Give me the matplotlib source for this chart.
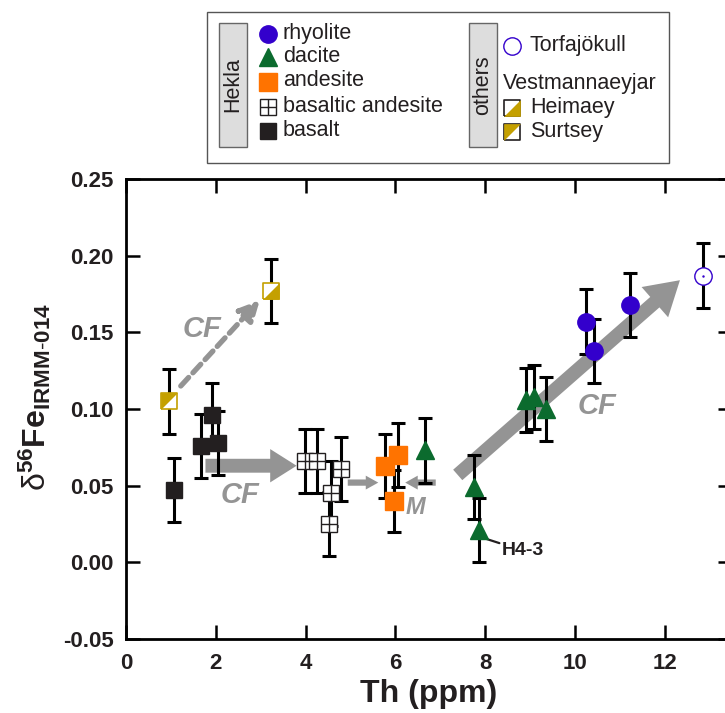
import matplotlib
matplotlib.use("Agg")
import matplotlib.pyplot as plt
from matplotlib.patches import Rectangle

# =========================
# Data
# =========================
basalt_th = [1.08, 1.66, 1.91, 2.06]
basalt_fe = [0.047, 0.076, 0.096, 0.078]
basalt_err = [0.021, 0.021, 0.021, 0.021]

bas_and_th = [3.98, 4.25, 4.56, 4.53, 4.78]
bas_and_fe = [0.066, 0.066, 0.045, 0.025, 0.061]
bas_and_err = [0.021, 0.021, 0.021, 0.021, 0.021]

andesite_th = [5.78, 6.07, 5.96]
andesite_fe = [0.063, 0.070, 0.040]
andesite_err = [0.021, 0.021, 0.020]

dacite_th = [6.65, 7.75, 7.86, 8.91, 9.09, 9.35]
dacite_fe = [0.073, 0.049, 0.021, 0.106, 0.108, 0.100]
dacite_err = [0.021, 0.021, 0.021, 0.021, 0.021, 0.021]

rhyolite_th = [10.24, 10.42, 11.23]
rhyolite_fe = [0.157, 0.138, 0.168]
rhyolite_err = [0.021, 0.021, 0.021]

torfa_th = [12.85]
torfa_fe = [0.187]
torfa_err = [0.021]

heimaey_th = [3.22]
heimaey_fe = [0.177]
heimaey_err = [0.021]

surtsey_th = [0.95]
surtsey_fe = [0.105]
surtsey_err = [0.021]

# =========================
# Style
# =========================
BLUE = "#3300CC"
GREEN = "#0B6B2E"
ORANGE = "#FF7300"
DARK = "#231F20"
GOLD = "#C4A000"
ARROW = "#949494"

plt.rcParams.update({
    "font.family": ["Liberation Sans", "DejaVu Sans"],
    "font.weight": "bold",
    "mathtext.fontset": "custom",
    "mathtext.rm": "Liberation Sans:weight=normal",
    "mathtext.bf": "Liberation Sans:bold",
    "mathtext.it": "Liberation Sans:italic",
})

# half-filled square markers (display coords, y up)
SQ = [(-1, -1), (1, -1), (1, 1), (-1, 1), (-1, -1)]
TRI_UL = [(-1, -1), (-1, 1), (1, 1), (-1, -1)]
TRI_LR = [(-1, -1), (1, -1), (1, 1), (-1, -1)]

fig = plt.figure(figsize=(7.25, 7.13), dpi=100)
ax = fig.add_axes([126 / 725, 1 - 639 / 713, 606 / 725, 460 / 713])

EB = dict(fmt="none", ecolor="black", elinewidth=2.2, capsize=5, capthick=2.2, zorder=3)

ax.errorbar(basalt_th, basalt_fe, yerr=basalt_err, **EB)
ax.errorbar(bas_and_th, bas_and_fe, yerr=bas_and_err, **EB)
ax.errorbar(andesite_th, andesite_fe, yerr=andesite_err, **EB)
ax.errorbar(dacite_th, dacite_fe, yerr=dacite_err, **EB)
ax.errorbar(rhyolite_th, rhyolite_fe, yerr=rhyolite_err, **EB)
ax.errorbar(torfa_th, torfa_fe, yerr=torfa_err, **EB)
ax.errorbar(heimaey_th, heimaey_fe, yerr=heimaey_err, **EB)
ax.errorbar(surtsey_th, surtsey_fe, yerr=surtsey_err, **EB)

ax.plot(basalt_th, basalt_fe, "s", ms=12, mfc=DARK, mec=DARK, ls="none", zorder=4)
ax.plot(bas_and_th, bas_and_fe, "s", ms=11.5, mfc="white", mec=DARK, mew=1, ls="none", zorder=4)
ax.plot(bas_and_th, bas_and_fe, "+", ms=11.5, mec=DARK, mew=1, ls="none", zorder=5)
ax.plot(andesite_th, andesite_fe, "s", ms=12.5, mfc=ORANGE, mec=ORANGE, ls="none", zorder=4)
ax.plot(dacite_th, dacite_fe, "^", ms=13, mfc=GREEN, mec=GREEN, ls="none", zorder=4)
ax.plot(rhyolite_th, rhyolite_fe, "o", ms=12.5, mfc=BLUE, mec=BLUE, ls="none", zorder=4)
ax.plot(torfa_th, torfa_fe, "o", ms=12.5, mfc="white", mec=BLUE, mew=1, ls="none", zorder=4)
ax.plot(torfa_th, torfa_fe, ".", ms=1.5, color=BLUE, ls="none", zorder=5)

ax.plot(heimaey_th, heimaey_fe, marker=SQ, ms=12, mfc="white", mec=GOLD, mew=1.2, ls="none", zorder=4)
ax.plot(heimaey_th, heimaey_fe, marker=TRI_LR, ms=12, mfc=GOLD, mec=GOLD, mew=0, ls="none", zorder=5)
ax.plot(surtsey_th, surtsey_fe, marker=SQ, ms=12, mfc="white", mec=GOLD, mew=1.2, ls="none", zorder=4)
ax.plot(surtsey_th, surtsey_fe, marker=TRI_UL, ms=12, mfc=GOLD, mec=GOLD, mew=0, ls="none", zorder=5)


# arrows (annotation)
def big_arrow(start, tip, tail, hw, hl):
    ax.annotate("", xy=tip, xytext=start,
                arrowprops=dict(arrowstyle=f"simple,head_length={hl},head_width={hw},tail_width={tail}",
                                mutation_scale=1, color=ARROW, lw=0, shrinkA=0, shrinkB=0),
                zorder=1)


big_arrow((1.77, 0.063), (3.80, 0.063), 10, 24, 19)
big_arrow((7.39, 0.057), (12.34, 0.184), 10, 29, 24)
big_arrow((4.94, 0.052), (5.62, 0.052), 4.5, 10, 9)
big_arrow((6.90, 0.052), (6.22, 0.052), 4.5, 10, 9)

ax.annotate("", xy=(2.98, 0.171), xytext=(1.22, 0.115),
            arrowprops=dict(arrowstyle="-|>,head_length=12,head_width=6", mutation_scale=1,
                            color=ARROW, lw=3.8, linestyle=(0, (2.2, 1.2)),
                            shrinkA=0, shrinkB=0),
            zorder=1)

CF_KW = dict(color=ARROW, fontsize=21, fontweight="bold", fontstyle="italic",
             ha="center", va="center", zorder=2)
ax.text(1.69, 0.152, "CF", **CF_KW)
ax.text(2.53, 0.044, "CF", **CF_KW)
ax.text(10.49, 0.102, "CF", **CF_KW)
ax.text(6.45, 0.036, "M", color=ARROW, fontsize=17, fontweight="bold", fontstyle="italic",
        ha="center", va="center", zorder=2)

ax.annotate("H4-3", xy=(7.95, 0.016), xytext=(8.38, 0.0075), fontsize=14, fontweight="bold",
            color=DARK, ha="left", va="center",
            arrowprops=dict(arrowstyle="-", color=DARK, lw=1.6, shrinkA=0, shrinkB=0))

# axes
ax.set_xlim(0, 13.5)
ax.set_ylim(-0.05, 0.25)
ax.set_xticks(range(0, 13, 2))
ax.set_yticks([-0.05, 0.0, 0.05, 0.10, 0.15, 0.20, 0.25])
ax.set_yticklabels(["-0.05", "0.00", "0.05", "0.10", "0.15", "0.20", "0.25"])
ax.tick_params(axis="both", direction="in", length=10, width=1.8, labelsize=16,
               top=True, right=True, colors="black", labelcolor=DARK)
ax.tick_params(axis="y", pad=9)
ax.tick_params(axis="x", pad=10)
for s in ax.spines.values():
    s.set_linewidth(2)

ax.set_xlabel("Th (ppm)", fontsize=23, fontweight="bold", color=DARK, labelpad=4)
ax.set_ylabel(r"$\mathrm{\delta}^{\mathbf{56}}\mathbf{Fe}_{\mathbf{IRMM}\text{-}\mathbf{014}}$",
              fontsize=23, color=DARK)
ax.yaxis.set_label_coords(-0.12, 0.525)

# =========================
# Legend box (drawn in pixel space)
# =========================
lg = fig.add_axes([0, 0, 1, 1], zorder=10)
lg.set_xlim(0, 725)
lg.set_ylim(713, 0)
lg.axis("off")
lg.patch.set_alpha(0)

lg.add_patch(Rectangle((207, 12), 462, 151, fc="white", ec="#555555", lw=1))
lg.add_patch(Rectangle((219, 23), 28, 124, fc="#DDDDDD", ec="#666666", lw=1))
lg.add_patch(Rectangle((469, 23), 28, 124, fc="#DDDDDD", ec="#666666", lw=1))
lg.text(233, 85, "Hekla", rotation=90, ha="center", va="center", fontsize=15.5,
        fontweight="normal", color=DARK)
lg.text(483, 85, "others", rotation=90, ha="center", va="center", fontsize=15.5,
        fontweight="normal", color=DARK)

TXT = dict(fontsize=15.5, fontweight="normal", color=DARK, ha="left", va="center")
lg.plot([268], [34], "o", ms=12.5, mfc=BLUE, mec=BLUE)
lg.text(283, 34, "rhyolite", **TXT)
lg.plot([268], [57], "^", ms=13, mfc=GREEN, mec=GREEN)
lg.text(283, 57, "dacite", **TXT)
lg.plot([268], [82], "s", ms=12.5, mfc=ORANGE, mec=ORANGE)
lg.text(283, 81, "andesite", **TXT)
lg.plot([268], [107], "s", ms=11.5, mfc="white", mec=DARK, mew=1)
lg.plot([268], [107], "+", ms=11.5, mec=DARK, mew=1)
lg.text(283, 106, "basaltic andesite", **TXT)
lg.plot([268], [131], "s", ms=12, mfc=DARK, mec=DARK)
lg.text(283, 130, "basalt", **TXT)

lg.plot([512], [46], "o", ms=12.5, mfc="white", mec=BLUE, mew=1)
lg.text(530, 46, "Torfajökull", **TXT)
lg.text(503, 84, "Vestmannaeyjar", **TXT)
lg.plot([512], [108], marker=SQ, ms=12, mfc="white", mec=DARK, mew=1.2)
lg.plot([512], [108], marker=TRI_LR, ms=12, mfc=GOLD, mec=GOLD, mew=0)
lg.text(530, 108, "Heimaey", **TXT)
lg.plot([512], [132], marker=SQ, ms=12, mfc="white", mec=DARK, mew=1.2)
lg.plot([512], [132], marker=TRI_UL, ms=12, mfc=GOLD, mec=GOLD, mew=0)
lg.text(530, 132, "Surtsey", **TXT)

fig.savefig("out.png", dpi=100)
